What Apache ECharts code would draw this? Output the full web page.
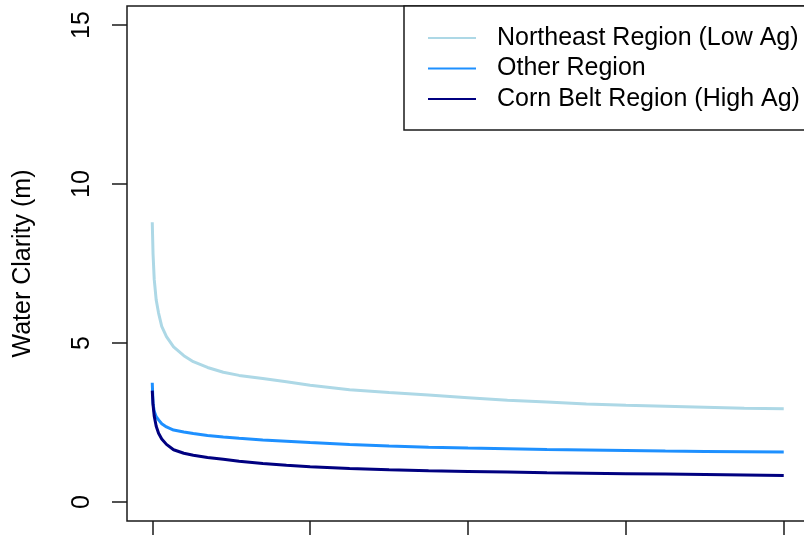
<!DOCTYPE html>
<html>
<head>
<meta charset="utf-8">
<script src="https://cdn.jsdelivr.net/npm/echarts@6/dist/echarts.min.js"></script>
<style>html,body{margin:0;padding:0;background:#fff;}#c{width:804px;height:535px;}</style>
</head>
<body>
<div id="c"></div>
<script>
var xVals = [0, 0.005, 0.0125, 0.025, 0.04, 0.06, 0.09, 0.135, 0.2, 0.26, 0.35, 0.45, 0.55, 0.7, 0.85, 1.0, 1.25, 1.5, 1.75, 2.0, 2.25, 2.5, 2.75, 3.0, 3.25, 3.5, 3.75, 4.0];
var northeast = [8.8, 7.8, 7.0, 6.35, 5.94, 5.52, 5.2, 4.88, 4.6, 4.41, 4.23, 4.08, 3.98, 3.88, 3.78, 3.67, 3.53, 3.44, 3.36, 3.28, 3.2, 3.14, 3.08, 3.04, 3.01, 2.98, 2.95, 2.93];
var other = [3.75, 3.1, 2.85, 2.68, 2.58, 2.46, 2.36, 2.26, 2.2, 2.15, 2.09, 2.04, 2.0, 1.95, 1.91, 1.87, 1.81, 1.76, 1.72, 1.695, 1.675, 1.65, 1.635, 1.62, 1.6, 1.59, 1.58, 1.57];
var cornBelt = [3.5, 3.05, 2.7, 2.38, 2.16, 1.98, 1.81, 1.64, 1.53, 1.47, 1.40, 1.34, 1.28, 1.21, 1.155, 1.11, 1.05, 1.01, 0.98, 0.96, 0.94, 0.92, 0.905, 0.89, 0.875, 0.86, 0.845, 0.83];
var seriesNames = ['Northeast Region (Low Ag)', 'Other Region', 'Corn Belt Region (High Ag)'];
var seriesColors = ['#ADD8E6', '#1E90FF', '#000080'];
var yTicks = [0, 5, 10, 15];
var xTicks = [0, 1, 2, 3, 4];
var yTitle = 'Water Clarity (m)';

function pairs(ys) { return xVals.map(function (x, i) { return [x, ys[i]]; }); }
var allData = [northeast, other, cornBelt];

var font = 'Liberation Sans, Arial, sans-serif';
var chart = echarts.init(document.getElementById('c'), null, { renderer: 'canvas' });
chart.setOption({
  animation: false,
  backgroundColor: '#fff',
  grid: { left: 127, top: 6, width: 682, height: 515, show: true, borderColor: '#1a1a1a', borderWidth: 1.5, backgroundColor: 'transparent', containLabel: false, outerBoundsMode: 'none' },
  legend: {
    orient: 'vertical', left: 404, top: 6,
    data: seriesNames,
    icon: 'rect', itemWidth: 48, itemHeight: 2, itemGap: 0.5,
    padding: [17, 30, 16, 24],
    borderColor: '#1a1a1a', borderWidth: 1.5, backgroundColor: '#fff',
    textStyle: { fontFamily: font, fontSize: 25, color: '#000', lineHeight: 30, padding: [0, 0, 0, 16] }
  },
  xAxis: {
    type: 'value', min: -0.16, max: 4.16,
    axisLine: { show: false, onZero: false }, splitLine: { show: false },
    axisTick: { show: true, inside: false, length: 14, customValues: xTicks, lineStyle: { color: '#1a1a1a', width: 1.5 } },
    axisLabel: { show: false }
  },
  yAxis: {
    type: 'value', min: -0.6, max: 15.6,
    axisLine: { show: false, onZero: false }, splitLine: { show: false },
    axisTick: { show: true, inside: false, length: 15, customValues: yTicks, lineStyle: { color: '#1a1a1a', width: 1.5 } },
    axisLabel: { show: true, customValues: yTicks, rotate: 90, margin: 32, fontFamily: font, fontSize: 25, color: '#000' },
    name: yTitle, nameLocation: 'middle', nameRotate: 90, nameGap: 91,
    nameTextStyle: { fontFamily: font, fontSize: 25, color: '#000' }
  },
  series: allData.map(function (d, i) {
    return {
      name: seriesNames[i], type: 'line', data: pairs(d),
      showSymbol: false, smooth: false,
      lineStyle: { color: seriesColors[i], width: 3 },
      itemStyle: { color: seriesColors[i] },
      z: 2
    };
  })
});
</script>
</body>
</html>
